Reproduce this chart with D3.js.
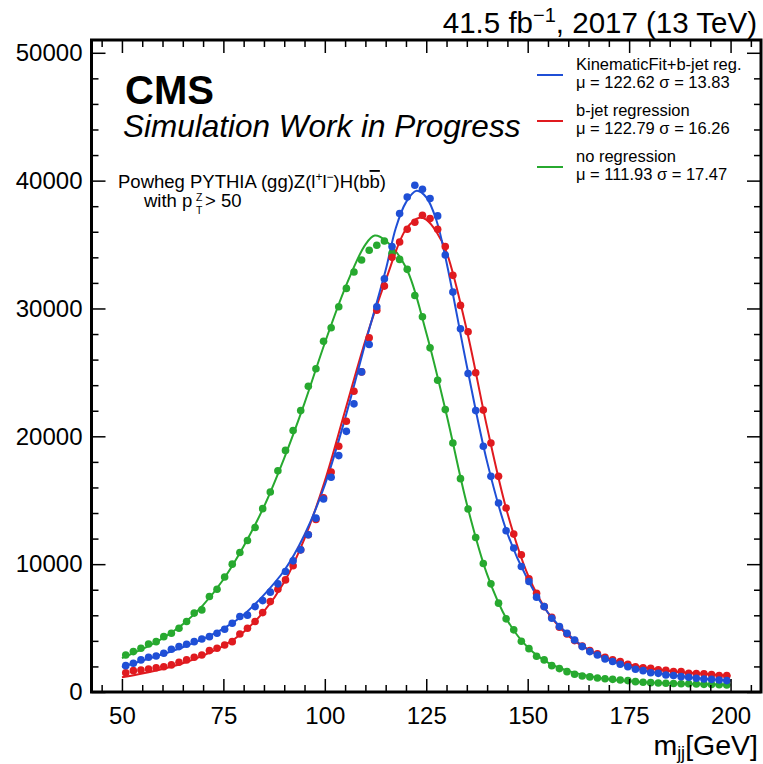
<!DOCTYPE html>
<html>
<head>
<meta charset="utf-8">
<script src="https://cdn.jsdelivr.net/npm/d3@7/dist/d3.min.js"></script>
<style>
  html, body { margin: 0; padding: 0; background: #fff; }
  svg { display: block; }
  text { font-family: "Liberation Sans", Arial, Helvetica, sans-serif; fill: #000; }
</style>
</head>
<body>
<svg id="chart" width="763" height="764"></svg>
<script>
// Histogram binning of the dijet mass (GeV)
const binMin = 50, binMax = 200, nBins = 80;

// Event counts per bin
const kinFitCounts = [2060, 2250, 2510, 2720, 2820, 3030, 3340, 3550, 3740, 3940,
  4150, 4330, 4600, 4910, 5380, 5900, 6010, 6680, 7150, 7810,
  8460, 9420, 10260, 11120, 12300, 13600, 15100, 16800, 18490, 20390,
  22540, 25040, 27180, 30140, 32330, 34840, 37420, 38720, 39640, 39330,
  38600, 37240, 34180, 31280, 28410, 24910, 22010, 19220, 16870, 14780,
  12610, 11260, 9820, 8640, 7420, 6680, 5770, 5120, 4600, 4070,
  3550, 3160, 2900, 2590, 2380, 2170, 1980, 1780, 1670, 1510,
  1460, 1330, 1290, 1200, 1150, 1070, 1020, 990, 940, 890];

const bRegCounts = [1510, 1670, 1720, 1800, 1900, 1980, 2120, 2330, 2510, 2720,
  2900, 3240, 3420, 3680, 3940, 4540, 4990, 5510, 6210, 7070,
  8040, 8770, 9870, 11120, 12300, 13500, 15200, 17200, 19220, 21180,
  23530, 25040, 27710, 29870, 31750, 34000, 35200, 36200, 36750, 37290,
  37030, 36190, 34840, 32590, 30240, 28180, 24970, 22050, 19480, 16870,
  14390, 12350, 10730, 8850, 7730, 6680, 5850, 5070, 4540, 4020,
  3600, 3240, 2980, 2720, 2510, 2380, 2170, 1980, 1900, 1850,
  1730, 1700, 1600, 1600, 1470, 1440, 1420, 1360, 1280, 1280];

const noRegCounts = [2900, 3160, 3420, 3760, 3940, 4330, 4600, 4990, 5510, 6170,
  6420, 7470, 8040, 8990, 10000, 10910, 11850, 12870, 14340, 15640,
  17310, 18900, 20450, 22010, 23920, 25280, 27440, 28490, 30140, 31570,
  32850, 33790, 34550, 34940, 35280, 34310, 33840, 33060, 31020, 29350,
  26920, 24390, 22090, 19480, 16690, 14310, 12090, 10050, 8460, 6950,
  5720, 4860, 3970, 3390, 2800, 2510, 2060, 1830, 1590, 1390,
  1250, 1180, 1100, 1040, 990, 940, 890, 810, 760, 730,
  700, 690, 670, 650, 640, 620, 600, 590, 570, 550];

// Fitted line shapes, sampled in mass
const kinFitFitMass = [50, 55, 60, 65, 70, 75, 80, 85, 90, 95, 100, 105, 110, 115, 117.5, 120, 122.6, 125, 127.5, 130, 135, 140, 145, 150, 155, 160, 165, 170, 175, 180, 185, 190, 195, 200];
const kinFitFitVals = [1950, 2450, 2950, 3500, 4150, 4950, 6050, 7600, 9500, 12300, 16200, 21400, 27300, 33000, 36300, 38300, 39200, 38700, 36900, 33600, 25500, 18000, 12400, 8800, 6200, 4500, 3300, 2500, 2000, 1600, 1350, 1150, 1000, 880];

const bRegFitMass = [50, 55, 60, 65, 70, 75, 80, 85, 90, 95, 100, 105, 110, 115, 120, 123.3, 125, 127.5, 130, 135, 140, 145, 150, 155, 160, 165, 170, 175, 180, 185, 190, 195, 200];
const bRegFitVals = [1150, 1450, 1800, 2250, 2850, 3600, 4700, 6300, 8600, 12000, 16500, 22000, 27500, 32200, 36200, 37100, 36950, 36000, 34400, 28300, 20700, 14000, 9200, 6200, 4400, 3300, 2600, 2150, 1850, 1650, 1500, 1380, 1280];

const noRegFitMass = [50, 55, 60, 65, 70, 75, 80, 85, 90, 95, 100, 105, 110, 112.3, 115, 120, 125, 130, 135, 140, 145, 150, 155, 160, 165, 170, 175, 180, 185, 190, 195, 200];
const noRegFitVals = [2650, 3350, 4200, 5300, 6800, 8800, 11400, 14500, 18300, 22600, 27300, 31600, 35000, 35700, 35300, 33200, 28100, 21700, 14700, 9200, 5600, 3500, 2300, 1650, 1250, 1000, 850, 750, 680, 630, 590, 560];

// Legend entries
const seriesNames = ["KinematicFit+b-jet reg.", "b-jet regression", "no regression"];
const seriesMu = ["122.62", "122.79", "111.93"];
const seriesSigma = ["13.83", "16.26", "17.47"];
const seriesColors = ["#1f4fd6", "#e01a1f", "#27a92f"];

// Axis ticks
const xTickLabels = [50, 75, 100, 125, 150, 175, 200];
const yTickLabels = [0, 10000, 20000, 30000, 40000, 50000];

const binWidth = (binMax - binMin) / nBins;
const binCenters = d3.range(nBins).map(i => binMin + (i + 0.5) * binWidth);

const svg = d3.select("#chart");
svg.append("rect").attr("width", 763).attr("height", 764).attr("fill", "#fff");

const x = d3.scaleLinear().domain([42.5, 207.5]).range([91.5, 761]);
const y = d3.scaleLinear().domain([0, 51000]).range([692, 40]);

const plot = svg.append("g");

// Fit curves
const fits = [
  [kinFitFitMass, kinFitFitVals],
  [bRegFitMass, bRegFitVals],
  [noRegFitMass, noRegFitVals]
];
const line = d3.line().x(d => x(d[0])).y(d => y(d[1])).curve(d3.curveCatmullRom.alpha(0.5));
// draw order: green, red, blue
[2, 1, 0].forEach(k => {
  const pts = fits[k][0].map((m, i) => [m, fits[k][1][i]]);
  plot.append("path").attr("d", line(pts)).attr("fill", "none")
    .attr("stroke", seriesColors[k]).attr("stroke-width", 2);
});

// Binned points
const counts = [kinFitCounts, bRegCounts, noRegCounts];
[2, 1, 0].forEach(k => {
  plot.append("g").selectAll("circle").data(counts[k]).join("circle")
    .attr("cx", (d, i) => x(binCenters[i]))
    .attr("cy", d => y(d))
    .attr("r", 3.8)
    .attr("fill", seriesColors[k]);
});

// Axes with inward ticks on all four sides
const tickFont = 24;
function styleAxis(g) {
  g.select(".domain").remove();
  g.selectAll(".tick line").attr("stroke", "#000").attr("stroke-width", 1.5);
}
const xMajor = d3.range(50, 201, 25);
const xMinor = d3.range(45, 206, 5).filter(v => v % 25 !== 0);
const yMajor = d3.range(0, 50001, 10000);
const yMinor = d3.range(2000, 51000, 2000).filter(v => v % 10000 !== 0);

svg.append("g").attr("transform", "translate(0,692)")
  .call(d3.axisBottom(x).tickValues(xMajor).tickSize(-13).tickPadding(15).tickFormat((d, i) => xTickLabels[i]))
  .call(styleAxis)
  .call(g => g.selectAll("text").attr("font-size", tickFont).attr("font-family", "Liberation Sans, Arial, sans-serif").attr("fill", "#000"));
svg.append("g").attr("transform", "translate(0,692)")
  .call(d3.axisBottom(x).tickValues(xMinor).tickSize(-7).tickFormat(""))
  .call(styleAxis);
svg.append("g").attr("transform", "translate(0,40)")
  .call(d3.axisTop(x).tickValues(xMajor).tickSize(-13).tickFormat(""))
  .call(styleAxis);
svg.append("g").attr("transform", "translate(0,40)")
  .call(d3.axisTop(x).tickValues(xMinor).tickSize(-7).tickFormat(""))
  .call(styleAxis);

svg.append("g").attr("transform", "translate(91.5,0)")
  .call(d3.axisLeft(y).tickValues(yMajor).tickSize(-14).tickPadding(9).tickFormat((d, i) => yTickLabels[i]))
  .call(styleAxis)
  .call(g => g.selectAll("text").attr("font-size", tickFont).attr("font-family", "Liberation Sans, Arial, sans-serif").attr("fill", "#000"));
svg.append("g").attr("transform", "translate(91.5,0)")
  .call(d3.axisLeft(y).tickValues(yMinor).tickSize(-7).tickFormat(""))
  .call(styleAxis);
svg.append("g").attr("transform", "translate(761,0)")
  .call(d3.axisRight(y).tickValues(yMajor).tickSize(-14).tickFormat(""))
  .call(styleAxis);
svg.append("g").attr("transform", "translate(761,0)")
  .call(d3.axisRight(y).tickValues(yMinor).tickSize(-7).tickFormat(""))
  .call(styleAxis);

// Frame
svg.append("rect").attr("x", 91.5).attr("y", 40).attr("width", 761 - 91.5).attr("height", 652)
  .attr("fill", "none").attr("stroke", "#000").attr("stroke-width", 3);

// Header
svg.append("text").attr("x", 757).attr("y", 33).attr("text-anchor", "end").attr("font-size", 29.5)
  .html('41.5 fb<tspan baseline-shift="super" font-size="20">\u22121</tspan>, 2017 (13 TeV)');

// Axis title
svg.append("text").attr("x", 758).attr("y", 755).attr("text-anchor", "end").attr("font-size", 28.5)
  .html('m<tspan baseline-shift="-4" font-size="18">jj</tspan>[GeV]');

// CMS labels
svg.append("text").attr("x", 125).attr("y", 104).attr("font-size", 40).attr("font-weight", "bold").text("CMS");
svg.append("text").attr("x", 123).attr("y", 137).attr("font-size", 31.5).attr("font-style", "italic")
  .text("Simulation Work in Progress");

// Process label
svg.append("text").attr("x", 118).attr("y", 188).attr("font-size", 18.5)
  .html('Powheg PYTHIA (gg)Z(l<tspan baseline-shift="super" font-size="12">+</tspan>l<tspan baseline-shift="super" font-size="12">\u2212</tspan>)H(b<tspan text-decoration="overline">b</tspan>)');
const withLabel = svg.append("g");
withLabel.append("text").attr("x", 144).attr("y", 207).attr("font-size", 18.5).text("with p");
withLabel.append("text").attr("x", 196).attr("y", 201).attr("font-size", 10.5).text("Z");
withLabel.append("text").attr("x", 196).attr("y", 214).attr("font-size", 10.5).text("T");
withLabel.append("text").attr("x", 205).attr("y", 207).attr("font-size", 18.5).text("> 50");

// Legend
const legend = svg.append("g");
seriesNames.forEach((name, k) => {
  const y0 = 75 + k * 46;
  legend.append("line").attr("x1", 537).attr("x2", 563).attr("y1", y0).attr("y2", y0)
    .attr("stroke", seriesColors[k]).attr("stroke-width", 2);
  legend.append("text").attr("x", 576).attr("y", y0 - 5).attr("font-size", 16.5).text(name);
  legend.append("text").attr("x", 576).attr("y", y0 + 13).attr("font-size", 16.5)
    .text("\u03bc = " + seriesMu[k] + " \u03c3 = " + seriesSigma[k]);
});
</script>
</body>
</html>
